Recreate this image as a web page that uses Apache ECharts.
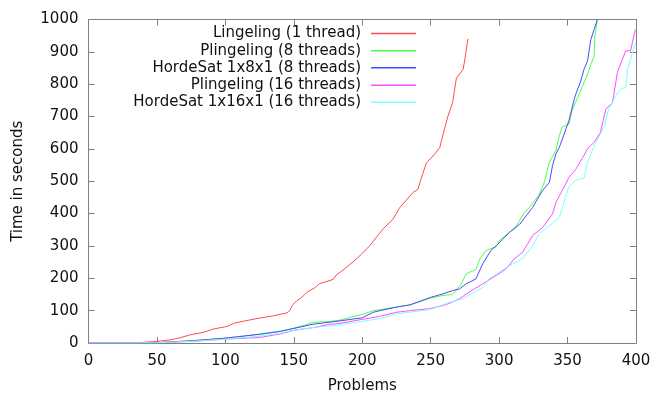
<!DOCTYPE html>
<html>
<head>
<meta charset="utf-8">
<script src="https://cdn.jsdelivr.net/npm/echarts@6/dist/echarts.min.js"></script>
<style>
  html, body { margin: 0; padding: 0; background: #fff; }
  #chart { width: 664px; height: 399px; }
</style>
</head>
<body>
<div id="chart"></div>
<script>
// series names
var names = ['Lingeling (1 thread)', 'Plingeling (8 threads)', 'HordeSat 1x8x1 (8 threads)',
             'Plingeling (16 threads)', 'HordeSat 1x16x1 (16 threads)'];
var colors = ['#ff4a4a', '#4aff4a', '#4a4aff', '#ff4aff', '#7affff'];

// Lingeling (1 thread)
var lingX = [0, 32, 40, 50, 60, 66, 74, 84, 91, 101, 107, 115, 125, 135, 145, 147, 149, 152, 155, 160,
             165, 169, 174, 179, 181, 183, 188.5, 195.8, 200, 205.5, 210, 215, 222.5, 227.4, 231, 237, 240.7, 243,
             246.9, 251.7, 256.6, 260, 262.6, 266, 268.8, 273.6, 275, 277.2];
var lingY = [0, 0, 2, 5, 10, 15, 25, 33, 43, 51, 62, 69, 77, 84, 93, 100, 117, 130, 138, 158,
             170, 184, 190, 197, 210, 216, 234, 260, 277, 301, 325, 352, 383, 419, 436, 465, 475, 508,
             557, 578, 604, 660, 701, 743, 819, 845, 877, 940];

// Plingeling (8 threads)
var pl8X = [0, 30, 50, 76, 100, 125, 140, 150, 158, 164, 175, 183, 190, 200, 208, 213, 225, 235, 250, 259,
            266, 269, 272, 276, 283, 286, 290.5, 298, 300, 306, 312, 318.5, 322, 326, 329, 333, 336.7, 341.5, 344,
            346, 351, 353.6, 358.5, 361, 364.6, 367, 369.4, 370, 371.8];
var pl8Y = [0, 0, 1, 7, 15, 27, 36, 46, 55, 64, 66, 70, 78, 88, 100, 103, 111, 118, 139, 147,
            150, 165, 180, 214, 227, 260, 286, 298, 316, 337, 358, 404, 418, 441, 456, 497, 559, 595, 641,
            667, 677, 723, 769, 795, 831, 861, 887, 949, 1000];

// HordeSat 1x8x1 (8 threads)
var hs8X = [0, 30, 50, 76, 100, 125, 140, 150, 164, 183, 200, 208, 213, 225, 235, 250, 259, 266, 271, 276,
            283, 288, 294, 298, 302.6, 307.5, 315, 319.7, 324.5, 328, 331.8, 336.7, 339, 341.5, 344, 351, 354.9,
            356, 359.7, 362, 364.6, 367, 369.4, 371.8];
var hs8Y = [0, 0, 1, 7, 15, 27, 36, 45, 58, 68, 78, 95, 100, 111, 118, 141, 152, 162, 167, 183,
            198, 245, 286, 301, 321, 342, 367, 393, 419, 445, 472, 496, 548, 585, 605, 687, 754,
            769, 810, 846, 872, 938, 969, 1000];

// Plingeling (16 threads)
var pl16X = [0, 30, 50, 76, 100, 125, 140, 150, 166.5, 176, 181, 200, 212.5, 225, 234.6, 249, 259, 264, 271, 278,
             288, 298, 305, 311, 317, 324.5, 332, 339, 341.5, 346, 351, 356, 361, 365, 369.4, 374, 378, 382.8,
             386.4, 390, 392.5, 396, 399.5];
var pl16Y = [0, 0, 1, 5, 12, 17, 28, 39, 49, 58, 59, 73, 82, 95, 100, 106, 116, 123, 137, 157,
             183, 209, 229, 260, 280, 332, 358, 399, 435, 470, 512, 537, 573, 603, 620, 651, 723, 743,
             836, 877, 903, 903, 969];

// HordeSat 1x16x1 (16 threads)
var hs16X = [0, 30, 50, 76, 100, 125, 140, 150, 166.5, 181, 200, 212.5, 225, 249, 264, 273.5, 288, 292.5, 300, 307.5,
             317, 324.5, 329, 336.7, 344, 346, 348, 351, 356, 362, 364.6, 370.6, 376.7, 380, 382.8, 385, 388.8,
             392.5, 393.7, 396, 398.5, 399.8];
var hs16Y = [0, 0, 1, 5, 12, 21, 30, 40, 49, 54, 67, 75, 90, 103, 126, 137, 172, 198, 219, 239,
             260, 301, 337, 363, 388, 415, 445, 484, 503, 510, 560, 620, 667, 723, 743, 764, 785,
             790, 841, 877, 915, 930];

var allX = [lingX, pl8X, hs8X, pl16X, hs16X];
var allY = [lingY, pl8Y, hs8Y, pl16Y, hs16Y];

function pairs(xs, ys) {
  var out = [];
  for (var i = 0; i < xs.length; i++) out.push([xs[i], ys[i]]);
  return out;
}

var font = 'DejaVu Sans';
var fsize = 15;
var axisGray = '#808080';

var series = [];
var legends = [];
var rowTop = [35, 52.3, 69.3, 86.7, 103.7];
for (var k = 0; k < names.length; k++) {
  series.push({
    name: names[k],
    type: 'line',
    symbol: 'none',
    color: colors[k],
    lineStyle: { width: 1, color: colors[k] },
    data: pairs(allX[k], allY[k]),
    animation: false
  });
  legends.push({
    data: [names[k]],
    right: 248,
    top: rowTop[k] - 9,
    padding: 0,
    align: 'right',
    icon: 'rect',
    itemWidth: 45,
    itemHeight: 1.5,
    selectedMode: false,
    textStyle: { fontFamily: font, fontSize: fsize, color: '#111', padding: [0, 5, 0, 0] }
  });
}

function plain(v) { return String(v); }

var chart = echarts.init(document.getElementById('chart'));
var option = {
  backgroundColor: '#fff',
  animation: false,
  grid: { left: 88.5, right: 28, top: 19.5, bottom: 54.5 },
  legend: legends,
  xAxis: [{
    type: 'value', min: 0, max: 400, interval: 50,
    name: 'Problems', nameLocation: 'middle', nameGap: 36,
    nameTextStyle: { fontFamily: font, fontSize: fsize, color: '#111' },
    axisLine: { show: true, onZero: false, lineStyle: { color: axisGray, width: 1 } },
    axisTick: { show: true, inside: true, length: 6, lineStyle: { color: axisGray } },
    axisLabel: { fontFamily: font, fontSize: fsize, color: '#111', margin: 11, formatter: plain },
    splitLine: { show: false }
  }, {
    type: 'value', min: 0, max: 400, interval: 50, position: 'top',
    axisLine: { show: true, onZero: false, lineStyle: { color: axisGray, width: 1 } },
    axisTick: { show: true, inside: true, length: 6, lineStyle: { color: axisGray } },
    axisLabel: { show: false },
    splitLine: { show: false }
  }],
  yAxis: [{
    type: 'value', min: 0, max: 1000, interval: 100,
    name: 'Time in seconds', nameLocation: 'middle', nameGap: 63, nameRotate: 90,
    nameTextStyle: { fontFamily: font, fontSize: fsize, color: '#111' },
    axisLine: { show: true, onZero: false, lineStyle: { color: axisGray, width: 1 } },
    axisTick: { show: true, inside: true, length: 6, lineStyle: { color: axisGray } },
    axisLabel: { fontFamily: font, fontSize: fsize, color: '#111', margin: 10, formatter: plain },
    splitLine: { show: false }
  }, {
    type: 'value', min: 0, max: 1000, interval: 100, position: 'right',
    axisLine: { show: true, onZero: false, lineStyle: { color: axisGray, width: 1 } },
    axisTick: { show: true, inside: true, length: 6, lineStyle: { color: axisGray } },
    axisLabel: { show: false },
    splitLine: { show: false }
  }],
  series: series
};
chart.setOption(option);
</script>
</body>
</html>
